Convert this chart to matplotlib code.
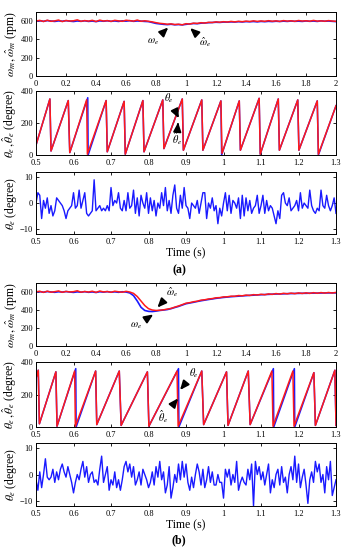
import numpy as np
import matplotlib
matplotlib.use("Agg")
import matplotlib.pyplot as plt

plt.rcParams['font.family'] = ['Liberation Serif', 'DejaVu Serif']
plt.rcParams['mathtext.fontset'] = 'stix'

# ---------------- data (a) ----------------
speed_a_actual = [600, 604, 598, 606, 601, 597, 603, 599, 605, 600, 596, 602, 598, 604, 597, 601,
                  595, 603, 599, 604, 598, 602, 597, 603, 600, 605, 598, 602, 600, 597, 595, 585,
                  575, 570, 565, 562, 566, 560, 563, 559, 565, 570, 574, 572, 578, 580, 583, 585,
                  588, 586, 590, 589, 592, 590, 594, 591, 595, 593, 596, 592, 597, 594, 598, 595,
                  599, 596, 600, 597, 601, 598, 600, 597, 602, 598, 601, 597, 603, 599, 601, 598, 595]
speed_a_est = [602, 608, 596, 610, 598, 603, 612, 595, 607, 601, 604, 614, 598, 606, 600, 609,
               596, 611, 601, 606, 597, 609, 603, 598, 610, 605, 600, 612, 598, 604, 598, 592,
               583, 576, 572, 566, 570, 563, 566, 560, 572, 568, 578, 575, 583, 579, 587, 585,
               592, 588, 594, 590, 597, 592, 598, 594, 600, 596, 603, 597, 602, 598, 605, 599,
               603, 597, 606, 600, 604, 598, 607, 601, 604, 599, 608, 600, 603, 599, 606, 601, 598]

theta_a_red_t = [0.5, 0.537, 0.540, 0.586, 0.590, 0.635, 0.637, 0.687, 0.690, 0.735, 0.738, 0.785,
                 0.788, 0.838, 0.841, 0.890, 0.893, 0.942, 0.945, 0.993, 0.996, 1.042, 1.045, 1.095,
                 1.098, 1.146, 1.149, 1.198, 1.201, 1.250, 1.253, 1.3]
theta_a_red_v = [62, 350, 25, 340, 15, 345, 5, 340, 20, 335, 5, 340, 20, 344, 40, 350, 30, 344,
                 30, 338, 10, 338, 30, 354, 5, 350, 30, 344, 30, 338, 5, 308]
theta_a_blue_t = [0.5, 0.537, 0.540, 0.586, 0.590, 0.638, 0.639, 0.687, 0.690, 0.735, 0.738, 0.785,
                  0.788, 0.838, 0.841, 0.890, 0.893, 0.942, 0.945, 0.993, 0.995, 1.042, 1.045, 1.095,
                  1.098, 1.146, 1.149, 1.198, 1.201, 1.250, 1.253, 1.3]
theta_a_blue_v = [62, 350, 25, 340, 15, 358, 0, 340, 20, 335, 5, 340, 20, 344, 40, 350, 30, 344,
                  30, 338, 0, 338, 30, 354, 5, 350, 30, 344, 30, 338, 0, 308]

err_a = [0, 4, 3, -6, 1, -2, 2, -4, -1, -5, -3, 2, 1, 0, -1, -3, -6, -3, -2, -1,
         4, -2, -1, 5, -2, 1, 4, -4, -5, -4, -3, 9, -3, -2, -1, -3, -2, -3, -1, -3,
         6, -1, 1, 0, 4, -2, -3, 1, -3, 4, -2, -1, 5, -4, 2, -5, 3, 0, -2, 4,
         -4, 2, -3, 1, -5, 0, -2, 4, -1, 6, -3, 1, -4, 3, 7, -2, -4, 3, -2, 6,
         -1, -2, -6, 0, -1, -2, 1, -4, 0, 4, 4, -6, 0, -2, 2, -3, -1, -8, -2, -5,
         0, 4, -3, 3, -4, 1, 0, -2, 2, -6, 3, -5, 2, -3, 1, -4, -2, -1, 3, -4,
         -1, 3, -4, 1, -3, -1, -2, -5, -8, -3, -6, 3, 4, 0, -1, 2, -3, -2, -1, 1,
         -3, 4, -2, 0, -1, -2, 5, -1, -3, -4, -2, -3, 5, -1, -2, 3, -1, -3, -1, 2, -4]

# ---------------- data (b) ----------------
speed_b_actual = [600, 604, 598, 605, 601, 597, 603, 599, 605, 600, 596, 602, 598, 604, 597, 601,
                  595, 603, 599, 604, 598, 602, 597, 603, 600, 590, 560, 500, 430, 395, 385, 383,
                  388, 395, 400, 405, 415, 428, 440, 455, 470, 478, 486, 495, 503, 510, 517, 523,
                  530, 535, 540, 544, 548, 551, 554, 557, 560, 563, 565, 568, 570, 572, 574, 576,
                  578, 579, 580, 582, 583, 584, 585, 586, 586, 587, 588, 588, 589, 590, 590, 591, 590]
speed_b_est = [603, 608, 596, 610, 598, 604, 612, 597, 607, 601, 604, 614, 598, 606, 600, 609,
               596, 611, 601, 606, 597, 609, 603, 598, 608, 600, 585, 550, 500, 450, 415, 400,
               395, 398, 402, 410, 418, 432, 445, 460, 476, 482, 492, 498, 510, 514, 523, 527,
               536, 538, 546, 547, 554, 553, 561, 558, 566, 562, 571, 567, 575, 570, 579, 574,
               583, 577, 586, 580, 588, 582, 590, 584, 591, 585, 593, 586, 594, 588, 595, 589, 596]

theta_b_red_t = [0.5, 0.506, 0.509, 0.553, 0.556, 0.603, 0.605, 0.659, 0.662, 0.722, 0.727, 0.797,
                 0.801, 0.876, 0.879, 0.942, 0.947, 1.008, 1.012, 1.066, 1.071, 1.129, 1.132, 1.185,
                 1.188, 1.241, 1.245, 1.297, 1.3]
theta_b_red_v = [300, 350, 20, 340, 5, 345, 5, 345, 15, 345, 10, 340, 5, 345, 5, 345, 15, 340,
                 10, 345, 15, 345, 5, 345, 5, 335, 10, 350, 10]
theta_b_blue_t = [0.5, 0.506, 0.509, 0.553, 0.556, 0.606, 0.607, 0.659, 0.662, 0.722, 0.727, 0.797,
                  0.801, 0.880, 0.881, 0.942, 0.947, 1.008, 1.012, 1.066, 1.071, 1.133, 1.134, 1.189,
                  1.190, 1.241, 1.245, 1.297, 1.3]
theta_b_blue_v = [300, 350, 20, 340, 5, 360, 0, 345, 15, 345, 10, 340, 5, 360, 0, 345, 15, 340,
                  10, 345, 15, 360, 0, 360, 0, 335, 10, 350, 10]

err_b = [-2, -6, 1, -5, 0, 6, -1, -2, -1, 2, -3, 1, -2, 2, 4, 1, -1, 3, 0, -3,
         -7, -3, 0, -2, 2, 5, -1, 3, -3, 0, 1, -3, -2, -4, 2, 7, -3, 0, 3, -6,
         -2, -4, 1, -5, -2, -6, -2, 3, 5, 1, 4, -1, 3, -4, -2, 1, -4, 2, 0, -2,
         -5, -3, 1, -4, 3, -1, 5, -2, 1, -7, -4, 3, -9, -5, 0, -3, 4, -2, 5, -1,
         4, -3, -6, -1, -5, 0, 4, 1, -4, 2, -5, -2, 3, -3, 1, -4, -4, 0, -3, -3,
         -9, 2, -1, 2, -4, 0, -3, 5, -6, -3, -1, -3, -4, 2, -2, 4, -12, 5, 0, 3,
         -2, 1, -4, 0, 4, -7, -2, -5, 0, 2, -4, 3, -3, -1, -7, 0, 3, -2, 7, -3,
         4, -5, -1, 2, -4, -11, -2, 1, -3, 5, 1, 4, -3, 0, -7, 3, -2, 5, -8, -5, -2]

speed_ticks = [0, 0.2, 0.4, 0.6, 0.8, 1, 1.2, 1.4, 1.6, 1.8, 2]
zoom_ticks = [0.5, 0.6, 0.7, 0.8, 0.9, 1, 1.1, 1.2, 1.3]

BLUE = '#1a1aff'
RED = '#ff1a1a'

fig = plt.figure(figsize=(3.58, 5.5), dpi=100)
L, W = 0.1006, 0.838
boxes = [(0.8618, 0.1164), (0.7182, 0.1164), (0.5745, 0.1127),
         (0.3709, 0.1145), (0.2236, 0.118), (0.08, 0.1145)]
axes = [fig.add_axes([L, b, W, h]) for b, h in boxes]

def style(ax, xticks, xlim, ylim, yticks):
    ax.set_xlim(*xlim)
    ax.set_ylim(*ylim)
    ax.set_xticks(xticks)
    ax.set_xticklabels(['%g' % v for v in xticks])
    ax.set_yticks(yticks)
    ax.tick_params(direction='in', length=2.5, width=0.6, labelsize=6, pad=2,
                   top=True, right=True)
    ax.tick_params(axis='x', pad=3)
    for s in ax.spines.values():
        s.set_linewidth(0.7)

def ann(ax, text, xy, xytext, fs=7.5):
    ax.annotate(text, xy=xy, xytext=xytext, fontsize=fs, ha='center', va='center',
                arrowprops=dict(arrowstyle='-|>,head_length=0.7,head_width=0.3',
                                color='black', lw=1.4, shrinkA=2, shrinkB=0))

ylab_speed = r'$\omega_m\,,\hat{\omega}_m$ (rpm)'
ylab_theta = r'$\theta_e\,,\hat{\theta}_e$ (degree)'
ylab_err = r'$\theta_e$ (degree)'

for k, (sa, se, trt, trv, tbt, tbv, er) in enumerate([
        (speed_a_actual, speed_a_est, theta_a_red_t, theta_a_red_v, theta_a_blue_t, theta_a_blue_v, err_a),
        (speed_b_actual, speed_b_est, theta_b_red_t, theta_b_red_v, theta_b_blue_t, theta_b_blue_v, err_b)]):
    a1, a2, a3 = axes[3 * k:3 * k + 3]
    t1 = np.linspace(0, 2, len(sa))
    t1e = np.linspace(0, 2, len(se))
    a1.plot(t1, sa, color=BLUE, lw=1.2)
    a1.plot(t1e, se, color=RED, lw=1.1)
    style(a1, speed_ticks, (0, 2), (0, 700), [0, 200, 400, 600])
    a1.set_ylabel(ylab_speed, fontsize=8.5, labelpad=1)

    a2.plot(tbt, tbv, color=BLUE, lw=1.1)
    a2.plot(trt, trv, color=RED, lw=1.1)
    style(a2, zoom_ticks, (0.5, 1.3), (0, 400), [0, 200, 400])
    a2.set_ylabel(ylab_theta, fontsize=8.5, labelpad=1)

    t3 = np.linspace(0.5, 1.3, len(er))
    a3.plot(t3, er, color=BLUE, lw=1.0)
    style(a3, zoom_ticks, (0.5, 1.3), (-12, 12), [-10, 0, 10])
    a3.set_ylabel(ylab_err, fontsize=8.5, labelpad=1)
    a3.set_xlabel('Time (s)', fontsize=8.5, labelpad=1)

# annotations (a)
ann(axes[0], r'$\omega_e$', xy=(0.882, 531), xytext=(0.78, 370))
ann(axes[0], r'$\hat{\omega}_e$', xy=(1.027, 525), xytext=(1.13, 370))
ann(axes[1], r'$\theta_e$', xy=(0.881, 229), xytext=(0.855, 354))
ann(axes[1], r'$\hat{\theta}_e$', xy=(0.879, 204), xytext=(0.875, 100))
# annotations (b)
ann(axes[3], r'$\hat{\omega}_e$', xy=(0.809, 427), xytext=(0.905, 600))
ann(axes[3], r'$\omega_e$', xy=(0.782, 351), xytext=(0.67, 226))
ann(axes[4], r'$\theta_e$', xy=(0.884, 228), xytext=(0.92, 330))
ann(axes[4], r'$\hat{\theta}_e$', xy=(0.879, 177), xytext=(0.84, 63))

fig.text(0.5, 1 - 270 / 550, '(a)', ha='center', va='center', fontsize=8.5, fontweight='bold')
fig.text(0.5, 1 - 540 / 550, '(b)', ha='center', va='center', fontsize=8.5, fontweight='bold')

fig.savefig('out.png', dpi=100)
